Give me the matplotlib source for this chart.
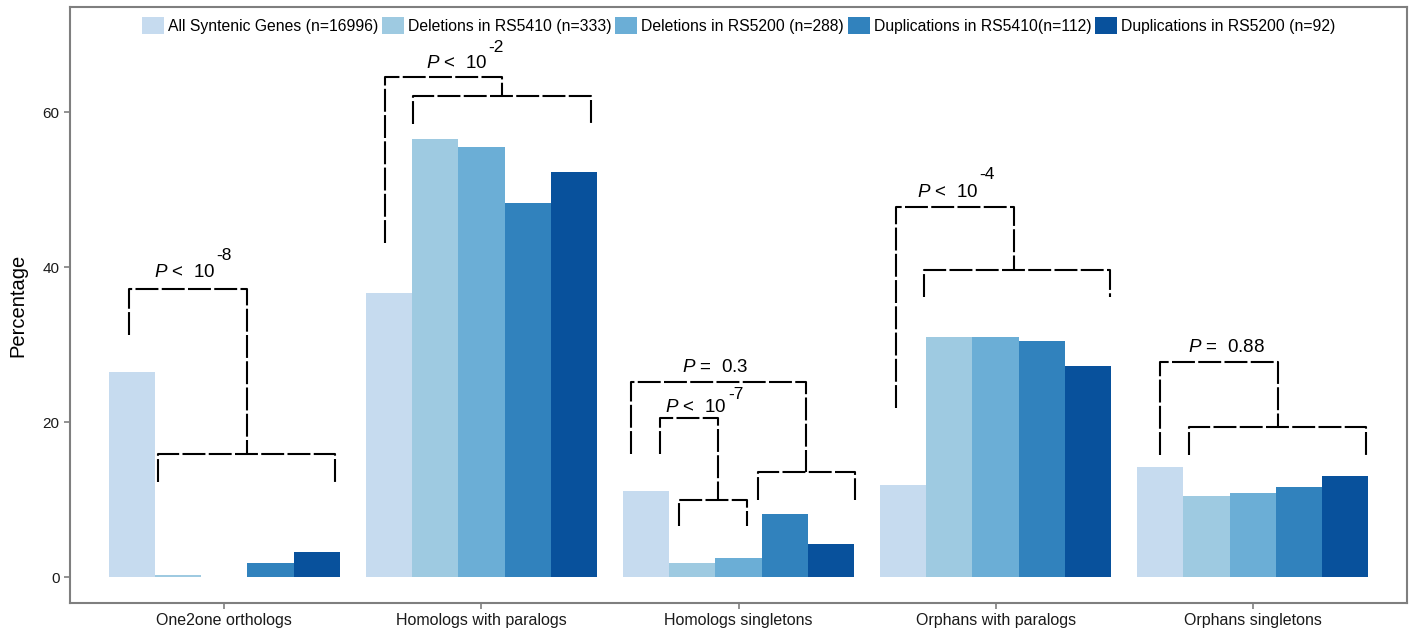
import numpy as np
import matplotlib.pyplot as plt

plt.rcParams['font.family'] = ['Liberation Sans', 'DejaVu Sans']
plt.rcParams['mathtext.fontset'] = 'custom'
plt.rcParams['mathtext.it'] = 'Liberation Sans:italic'
plt.rcParams['mathtext.rm'] = 'Liberation Sans'

categories = ['One2one orthologs', 'Homologs with paralogs', 'Homologs singletons',
              'Orphans with paralogs', 'Orphans singletons']
series = ['All Syntenic Genes (n=16996)', 'Deletions in RS5410 (n=333)',
          'Deletions in RS5200 (n=288)', 'Duplications in RS5410(n=112)',
          'Duplications in RS5200 (n=92)']
all_syntenic = [26.5, 36.6, 11.1, 11.9, 14.2]
del_rs5410 = [0.3, 56.5, 1.8, 31.0, 10.5]
del_rs5200 = [0.0, 55.5, 2.4, 31.0, 10.8]
dup_rs5410 = [1.8, 48.2, 8.1, 30.4, 11.6]
dup_rs5200 = [3.2, 52.2, 4.3, 27.2, 13.0]
colors = ['#c6dbef', '#9ecae1', '#6baed6', '#3182bd', '#08519c']

# significance brackets: (group, polyline of (x offset, y))
brackets = [
    (0, [(-0.369, 31.2), (-0.369, 37.2), (0.089, 37.2), (0.089, 15.9)]),
    (0, [(-0.256, 12.3), (-0.256, 15.9), (0.431, 15.9), (0.431, 12.3)]),
    (1, [(-0.375, 43.1), (-0.375, 64.5), (0.080, 64.5), (0.080, 62.1)]),
    (1, [(-0.266, 58.5), (-0.266, 62.1), (0.425, 62.1), (0.425, 58.5)]),
    (2, [(-0.419, 15.9), (-0.419, 25.2), (0.264, 25.2), (0.264, 13.5)]),
    (2, [(0.074, 9.9), (0.074, 13.5), (0.454, 13.5), (0.454, 9.9)]),
    (2, [(-0.307, 15.9), (-0.307, 20.5), (-0.078, 20.5), (-0.078, 9.9)]),
    (2, [(-0.233, 6.6), (-0.233, 9.9), (0.035, 9.9), (0.035, 6.6)]),
    (3, [(-0.386, 21.8), (-0.386, 47.7), (0.072, 47.7), (0.072, 39.6)]),
    (3, [(-0.278, 36.1), (-0.278, 39.6), (0.445, 39.6), (0.445, 36.1)]),
    (4, [(-0.361, 15.7), (-0.361, 27.7), (0.097, 27.7), (0.097, 19.4)]),
    (4, [(-0.249, 15.7), (-0.249, 19.4), (0.439, 19.4), (0.439, 15.7)]),
]
# p-value labels: x, baseline y, text, superscript, superscript raise (pt)
p_labels = [
    (-0.036, 38.7, '$\\it{P}$ <  10', '-8', 12),
    (1.022, 65.7, '$\\it{P}$ <  10', '-2', 11.5),
    (1.908, 26.5, '$\\it{P}$ =  0.3', None, 0),
    (1.954, 21.3, '$\\it{P}$ <  10', '-7', 9),
    (2.932, 49.0, '$\\it{P}$ <  10', '-4', 13.5),
    (3.896, 29.0, '$\\it{P}$ =  0.88', None, 0),
]

fig = plt.figure(figsize=(14.09, 6.28), dpi=100)
ax = fig.add_axes([70/1409, 25/628, 1337/1409, 596/628])

x = np.arange(len(categories))
width = 0.18
values = [all_syntenic, del_rs5410, del_rs5200, dup_rs5410, dup_rs5200]
for i, (vals, lab, c) in enumerate(zip(values, series, colors)):
    ax.bar(x + (i - 2) * width, vals, width, color=c, label=lab, linewidth=0)

for g, pts in brackets:
    xs = [g + p[0] for p in pts]
    ys = [p[1] for p in pts]
    ax.plot(xs, ys, color='black', lw=1.5, linestyle=(0, (11, 1.6)),
            solid_capstyle='butt', dash_capstyle='butt')

for px, py, txt, sup, rise in p_labels:
    if sup is None:
        ax.text(px, py, txt, ha='center', va='baseline', fontsize=13.5)
    else:
        ax.text(px, py, txt, ha='right', va='baseline', fontsize=13.5)
        ax.annotate(sup, (px, py), xytext=(1, rise), textcoords='offset points',
                    ha='left', va='baseline', fontsize=12.5)

ax.set_xlim(-0.6, 4.6)
ax.set_ylim(-3.35, 73.55)
ax.set_xticks(x)
ax.set_xticklabels(categories, fontsize=11.5)
ax.set_yticks([0, 20, 40, 60])
ax.tick_params(axis='y', labelsize=11)
ax.tick_params(colors='#7f7f7f', labelcolor='#1a1a1a', length=4, width=1.2)
ax.set_ylabel('Percentage', fontsize=14.5)
ax.yaxis.set_label_coords(-0.032, 0.5)
for s in ax.spines.values():
    s.set_color('#7f7f7f')
    s.set_linewidth(1.5)

ax.legend(loc='upper center', bbox_to_anchor=(0.5, 1.0), ncol=5, frameon=False,
          fontsize=11.3, handlelength=1.4, handleheight=1.3, handletextpad=0.25,
          columnspacing=0.25, borderaxespad=0.25)

fig.savefig('out.png', dpi=100)
